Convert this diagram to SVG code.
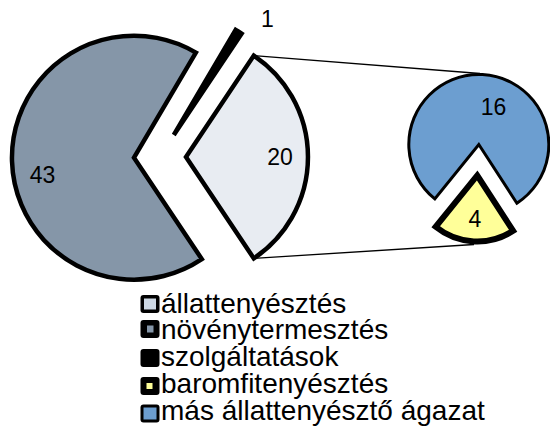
<svg xmlns="http://www.w3.org/2000/svg" width="550" height="428" viewBox="0 0 550 428">
<style>
.lbl{font-family:"Liberation Sans",Arial,sans-serif;font-size:23px;fill:#000;text-anchor:middle}
.leg{font-family:"Liberation Sans",Arial,sans-serif;font-size:28px;fill:#000}
.slice{stroke:#000;stroke-linejoin:miter;stroke-miterlimit:10}
.conn{stroke:#000;stroke-width:1.3;fill:none}
.key{fill:#000}
</style>
<rect width="550" height="428" fill="#fff"/>
<g id="connectors">
<line class="conn" x1="253.8" y1="55.6" x2="480" y2="73.5"/>
<line class="conn" x1="253.8" y1="258.4" x2="474" y2="244.5"/>
</g>
<g id="slice-43">
<path class="slice" d="M134,157.7 L195.9,52.6 A122,122 0 1 0 201.8,259.1 Z" fill="#8596A8" stroke-width="4.5"/>
<text class="lbl" x="42.5" y="183">43</text>
</g>
<g id="slice-20">
<path class="slice" d="M186,157 L253.8,55.6 A122,122 0 0 1 253.8,258.4 Z" fill="#E8ECF2" stroke-width="4.5"/>
<text class="lbl" x="280" y="165">20</text>
</g>
<g id="slice-1">
<path class="slice" d="M173.8,135 L241.6,33.6 A122,122 0 0 0 235.7,29.9 Z" fill="#000" stroke-width="4.5" stroke-linejoin="round"/>
<text class="lbl" x="267.5" y="27">1</text>
</g>
<g id="slice-16">
<path class="slice" transform="rotate(3 478 160)" d="M478,144.5 L519.1,201.1 A70,70 0 1 0 436.9,201.1 Z" fill="#6C9ED0" stroke-width="3"/>
<text class="lbl" x="493.5" y="115">16</text>
</g>
<g id="slice-4">
<path class="slice" transform="rotate(3 478 160)" d="M478,175.5 L516.8,228.9 A66,66 0 0 1 439.2,228.9 Z" fill="#FFFF99" stroke-width="6"/>
<text class="lbl" x="475" y="227">4</text>
</g>
<g id="legend">
<g id="leg-allattenyesztes">
<rect class="key" x="140.5" y="295" width="19" height="18" rx="3"/>
<rect x="144" y="298.5" width="12" height="11" fill="#CDD8E4"/>
<text class="leg" x="161" y="313">állattenyésztés</text>
</g>
<g id="leg-novenytermesztes">
<rect class="key" x="140.5" y="320" width="19" height="18" rx="3"/>
<rect x="147" y="325.5" width="6.5" height="7" fill="#8596A8"/>
<text class="leg" x="161" y="339">növénytermesztés</text>
</g>
<g id="leg-szolgaltatasok">
<rect class="key" x="140.5" y="349" width="19" height="18" rx="3"/>
<text class="leg" x="161" y="366">szolgáltatások</text>
</g>
<g id="leg-baromfi">
<rect class="key" x="140.5" y="377" width="19" height="18" rx="3"/>
<rect x="146.5" y="383" width="6" height="6" fill="#FFFF99"/>
<text class="leg" x="161" y="393">baromfitenyésztés</text>
</g>
<g id="leg-mas">
<rect class="key" x="140.5" y="404.5" width="19" height="18" rx="3"/>
<rect x="143.5" y="407.5" width="13" height="12" fill="#6C9ED0"/>
<text class="leg" x="161" y="420">más állattenyésztő ágazat</text>
</g>
</g>
</svg>
